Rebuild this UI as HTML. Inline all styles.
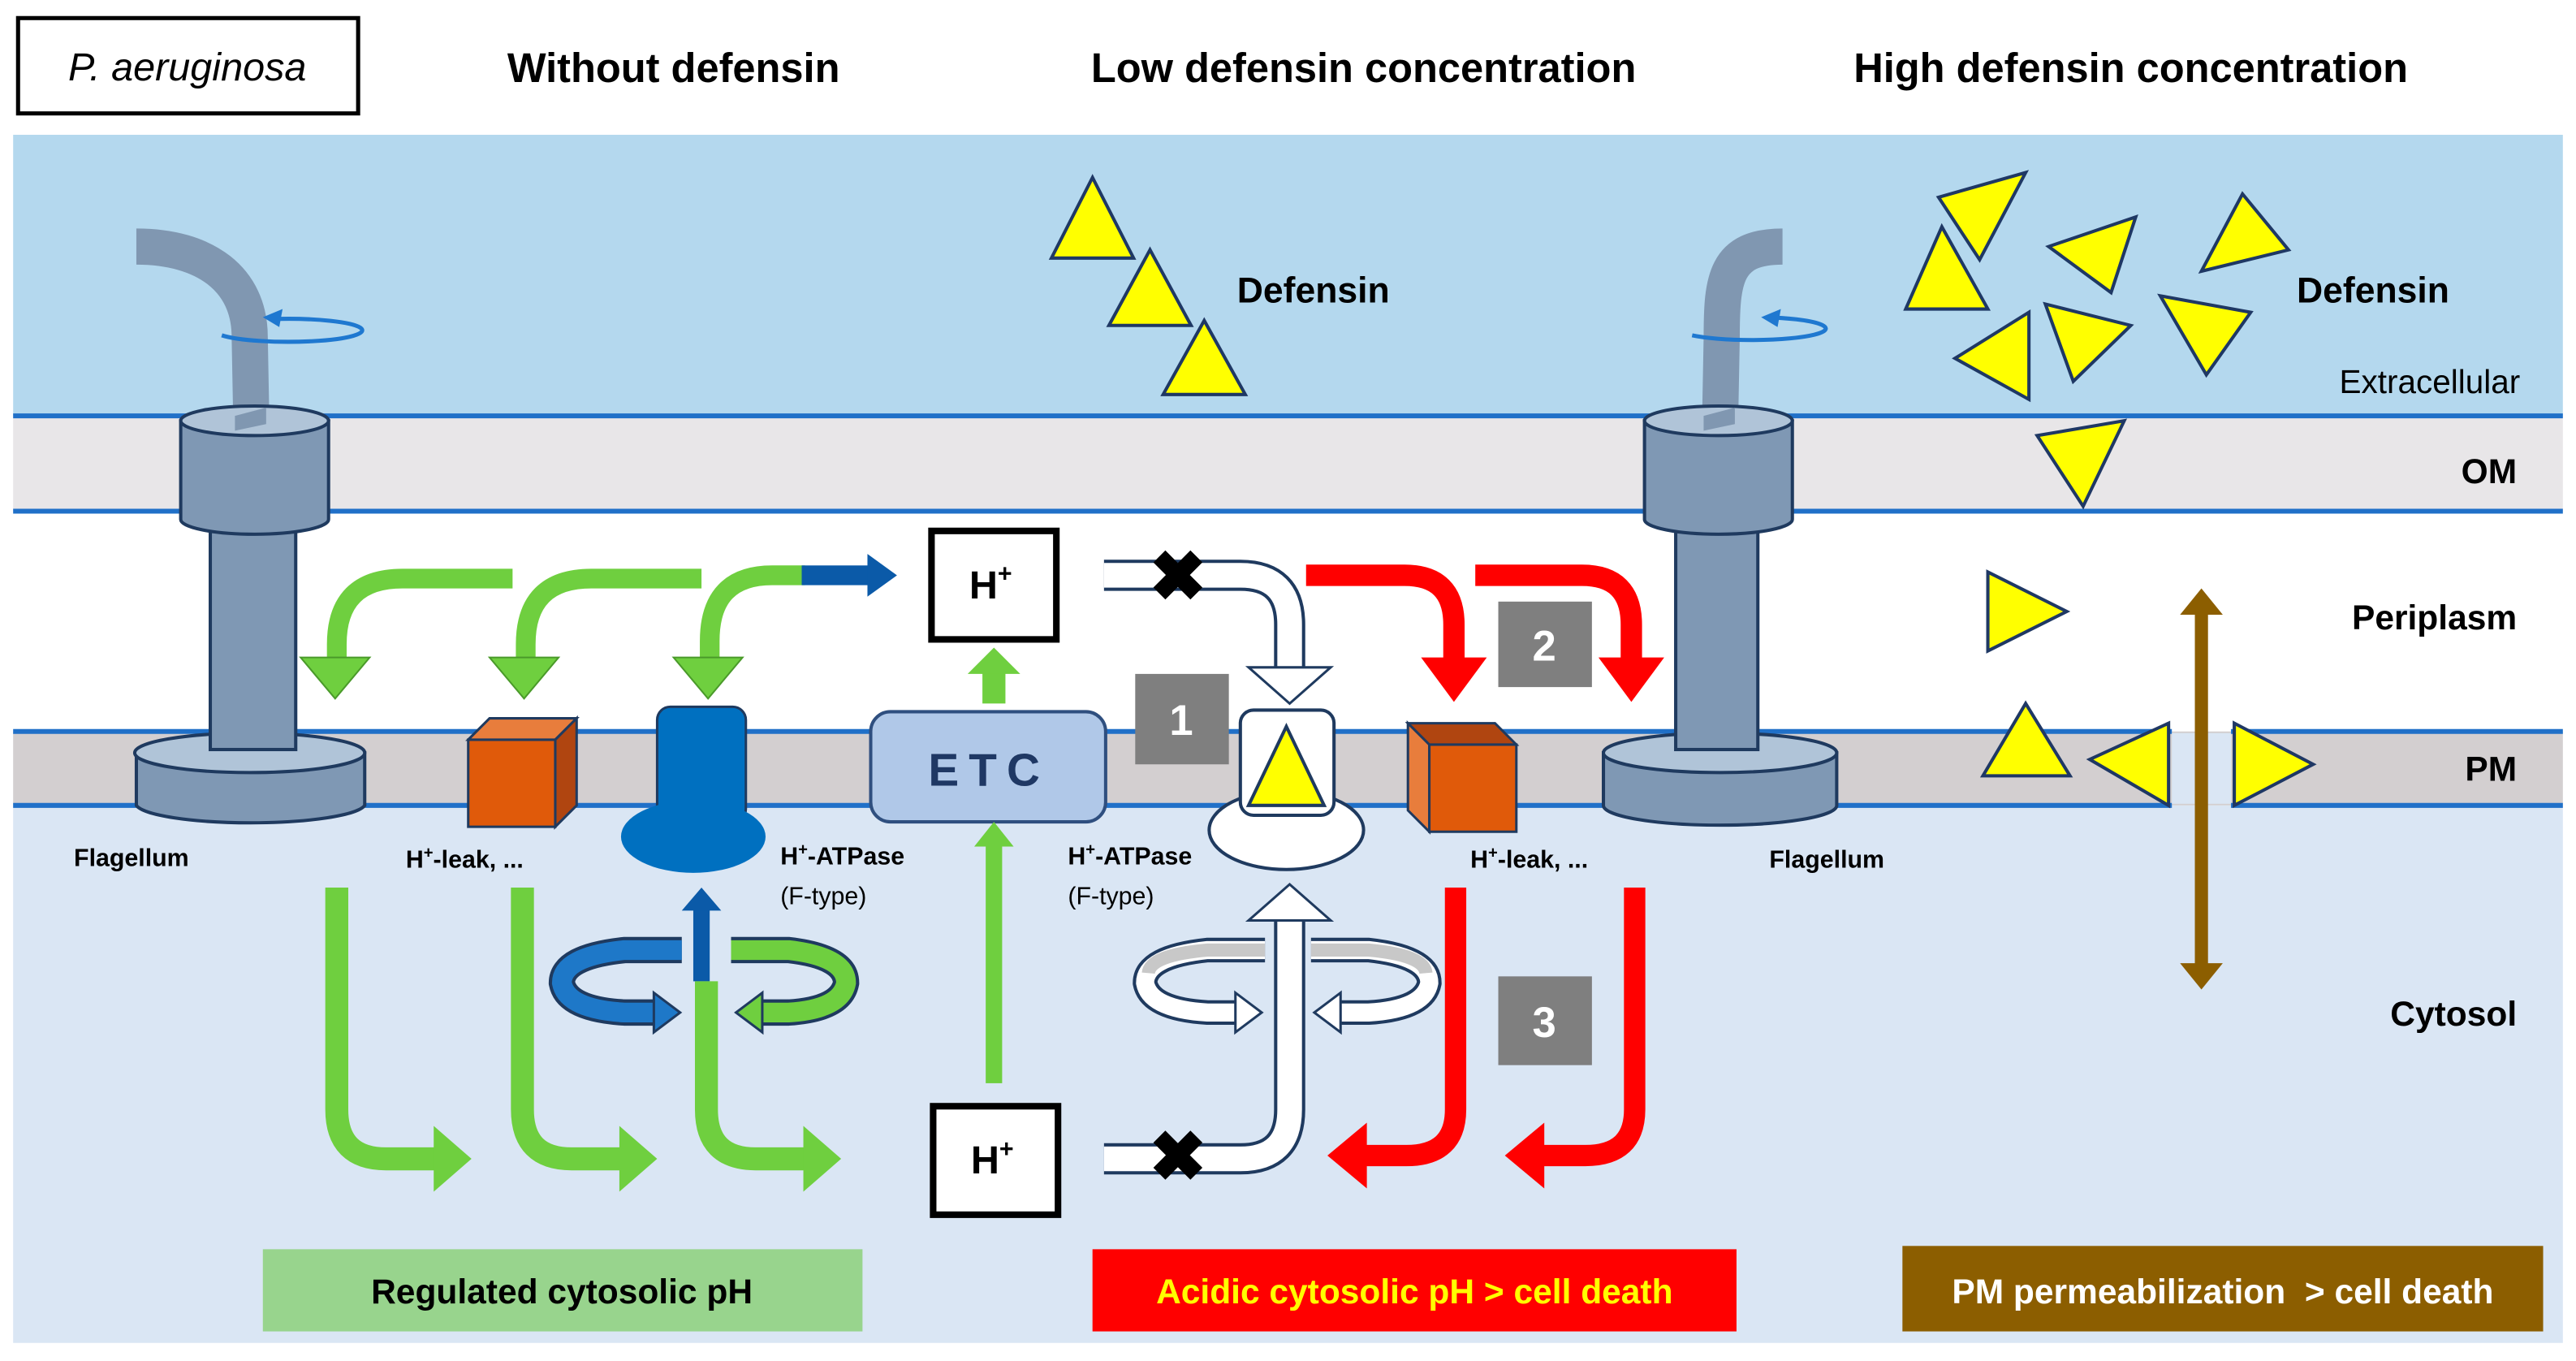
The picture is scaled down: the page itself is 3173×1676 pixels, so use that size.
<!DOCTYPE html>
<html><head><meta charset="utf-8"><style>
html,body{margin:0;padding:0;background:#fff;}
svg{display:block;}
text{font-family:"Liberation Sans",Arial,sans-serif;}
</style></head><body>
<svg width="3173" height="1676" viewBox="0 0 1568 828" preserveAspectRatio="none" xmlns="http://www.w3.org/2000/svg">
<rect x="0" y="0" width="1568" height="828" fill="#fff"/>
<!-- title -->
<rect x="11" y="11" width="207" height="58" fill="#fff" stroke="#000" stroke-width="2.5"/>
<text x="114" y="49" font-size="24" font-style="italic" text-anchor="middle">P. aeruginosa</text>
<text x="410" y="50" font-size="25" font-weight="bold" text-anchor="middle">Without defensin</text>
<text x="830" y="50" font-size="25" font-weight="bold" text-anchor="middle">Low defensin concentration</text>
<text x="1297" y="50" font-size="25" font-weight="bold" text-anchor="middle">High defensin concentration</text>

<!-- bands -->
<rect x="8" y="82" width="1552" height="171" fill="#b4d8ee"/>
<rect x="8" y="253" width="1552" height="58" fill="#e8e6e8"/>
<rect x="8" y="311" width="1552" height="134" fill="#fff"/>
<rect x="8" y="445" width="1552" height="45" fill="#d3cfd0"/>
<rect x="8" y="490" width="1552" height="327" fill="#dae6f4"/>
<g stroke="#2070c8" stroke-width="3">
<line x1="8" y1="253" x2="1560" y2="253"/>
<line x1="8" y1="311" x2="1560" y2="311"/>
<line x1="8" y1="445" x2="1322" y2="445"/><line x1="1358" y1="445" x2="1560" y2="445"/>
<line x1="8" y1="490" x2="1322" y2="490"/><line x1="1358" y1="490" x2="1560" y2="490"/>
</g>
<rect x="1322" y="446" width="36" height="43" fill="#dae6f4"/>

<!-- flagellum left -->
<g>
<path d="M83 150 C125 150,152 170,152 205 L153 258" fill="none" stroke="#8097b1" stroke-width="22"/>
<path d="M135 204 A45 7 0 1 0 170 194" fill="none" stroke="#1f78d0" stroke-width="2.5"/>
<polygon points="160,193 172,188 170,199" fill="#1f78d0"/>
<path d="M83 458 L83 490 A70 12 0 0 0 222 490 L222 458 Z" fill="#7f98b4" stroke="#1f3a5f" stroke-width="2"/>
<ellipse cx="152" cy="458" rx="70" ry="12" fill="#b0c4d8" stroke="#1f3a5f" stroke-width="2"/>
<rect x="128" y="318" width="52" height="138" fill="#7f98b4" stroke="#1f3a5f" stroke-width="2"/>
<path d="M110 256 L110 316 A45 9 0 0 0 200 316 L200 256 Z" fill="#7f98b4" stroke="#1f3a5f" stroke-width="2"/>
<ellipse cx="155" cy="256" rx="45" ry="9" fill="#b0c4d8" stroke="#1f3a5f" stroke-width="2"/>
<path d="M143 253 L143 262 L162 258 L162 248 Z" fill="#8097b1"/>
</g>
<!-- flagellum right -->
<g>
<path d="M1085 150 C1050 150,1048 170,1048 205 L1047 258" fill="none" stroke="#8097b1" stroke-width="22"/>
<path d="M1030 204 A45 7 0 1 0 1075 193" fill="none" stroke="#1f78d0" stroke-width="2.5"/>
<polygon points="1072,193 1084,188 1082,199" fill="#1f78d0"/>
<path d="M976 458 L976 490 A71 12 0 0 0 1118 490 L1118 458 Z" fill="#7f98b4" stroke="#1f3a5f" stroke-width="2"/>
<ellipse cx="1047" cy="458" rx="71" ry="12" fill="#b0c4d8" stroke="#1f3a5f" stroke-width="2"/>
<rect x="1020" y="318" width="50" height="138" fill="#7f98b4" stroke="#1f3a5f" stroke-width="2"/>
<path d="M1001 256 L1001 316 A45 9 0 0 0 1091 316 L1091 256 Z" fill="#7f98b4" stroke="#1f3a5f" stroke-width="2"/>
<ellipse cx="1046" cy="256" rx="45" ry="9" fill="#b0c4d8" stroke="#1f3a5f" stroke-width="2"/>
<path d="M1037 253 L1037 262 L1056 258 L1056 248 Z" fill="#8097b1"/>
</g>

<!-- green periplasm arrows -->
<g fill="none" stroke="#6fcf3f" stroke-width="12">
<path d="M312 352 L245 352 Q205 352 205 392 L205 402"/>
<path d="M427 352 L360 352 Q320 352 320 392 L320 402"/>
<path d="M490 350 L470 350 Q432 350 432 390 L432 402"/>
</g>
<g fill="#6fcf3f" stroke="#4a9a2a" stroke-width="1">
<polygon points="183,400 225,400 204,425"/>
<polygon points="298,400 340,400 319,425"/>
<polygon points="410,400 452,400 431,425"/>
</g>
<rect x="488" y="344" width="42" height="12" fill="#0b5aa8"/>
<polygon points="528,337 546,350 528,363" fill="#0b5aa8"/>

<!-- H+ boxes -->
<rect x="567" y="323" width="76" height="66" fill="#fff" stroke="#000" stroke-width="4"/>
<text x="603" y="364" font-size="24" font-weight="bold" text-anchor="middle">H<tspan font-size="15" dy="-10">+</tspan></text>
<rect x="568" y="673" width="76" height="66" fill="#fff" stroke="#000" stroke-width="4"/>
<text x="604" y="714" font-size="24" font-weight="bold" text-anchor="middle">H<tspan font-size="15" dy="-10">+</tspan></text>

<!-- ETC -->
<rect x="530" y="433" width="143" height="67" rx="12" fill="#b0c8e8" stroke="#2f4f7f" stroke-width="2"/>
<text x="602" y="478" font-size="28" font-weight="bold" fill="#1f3864" text-anchor="middle" letter-spacing="6">ETC</text>
<rect x="598" y="408" width="14" height="20" fill="#6fcf3f"/>
<polygon points="589,410 621,410 605,394" fill="#6fcf3f"/>
<rect x="600" y="512" width="10" height="147" fill="#6fcf3f"/>
<polygon points="593,515 617,515 605,500" fill="#6fcf3f"/>

<!-- orange cubes -->
<polygon points="285,450 338,450 338,503 285,503" fill="#e05a0a" stroke="#1f3a5f" stroke-width="1.5"/>
<polygon points="285,450 298,437 351,437 338,450" fill="#e87d3c" stroke="#1f3a5f" stroke-width="1.5"/>
<polygon points="338,450 351,437 351,490 338,503" fill="#b04510" stroke="#1f3a5f" stroke-width="1.5"/>
<polygon points="870,453 923,453 923,506 870,506" fill="#e05a0a" stroke="#1f3a5f" stroke-width="1.5"/>
<polygon points="870,453 857,440 910,440 923,453" fill="#b04510" stroke="#1f3a5f" stroke-width="1.5"/>
<polygon points="857,440 870,453 870,506 857,493" fill="#e87d3c" stroke="#1f3a5f" stroke-width="1.5"/>

<!-- blue ATPase -->
<rect x="400" y="430" width="54" height="70" rx="8" fill="#0070c0" stroke="#1f3a5f" stroke-width="1.5"/>
<ellipse cx="422" cy="509" rx="44" ry="22" fill="#0070c0"/>

<!-- labels -->
<g font-size="15" font-weight="bold">
<text x="45" y="527">Flagellum</text>
<text x="247" y="528">H<tspan font-size="10" dy="-6">+</tspan><tspan dy="6">-leak, ...</tspan></text>
<text x="475" y="526">H<tspan font-size="10" dy="-6">+</tspan><tspan dy="6">-ATPase</tspan></text>
<text x="650" y="526">H<tspan font-size="10" dy="-6">+</tspan><tspan dy="6">-ATPase</tspan></text>
<text x="895" y="528">H<tspan font-size="10" dy="-6">+</tspan><tspan dy="6">-leak, ...</tspan></text>
<text x="1077" y="528">Flagellum</text>
</g>
<text x="475" y="550" font-size="15">(F-type)</text>
<text x="650" y="550" font-size="15">(F-type)</text>

<!-- rotor rings left -->
<path d="M415 578 L380 578 Q342 582 342 598 Q345 614 380 616 L400 616" fill="none" stroke="#1f3a5f" stroke-width="16"/>
<path d="M415 578 L380 578 Q342 582 342 598 Q345 614 380 616 L400 616" fill="none" stroke="#1e78c8" stroke-width="12"/>
<polygon points="398,604 414,616 398,628" fill="#1e78c8" stroke="#1f3a5f" stroke-width="1.5"/>
<path d="M445 578 L480 578 Q515 582 515 598 Q512 614 480 616 L462 616" fill="none" stroke="#1f3a5f" stroke-width="16"/>
<path d="M445 578 L480 578 Q515 582 515 598 Q512 614 480 616 L462 616" fill="none" stroke="#6fcf3f" stroke-width="12"/>
<polygon points="464,604 448,616 464,628" fill="#6fcf3f" stroke="#1f3a5f" stroke-width="1.5"/>
<rect x="422" y="552" width="10" height="45" fill="#0b5aa8"/>
<polygon points="415,554 439,554 427,540" fill="#0b5aa8"/>

<!-- green cytosol arrows -->
<g fill="none" stroke="#6fcf3f" stroke-width="14">
<path d="M205 540 L205 675 Q205 705 235 705 L265 705"/>
<path d="M318 540 L318 675 Q318 705 348 705 L378 705"/>
<path d="M430 597 L430 675 Q430 705 460 705 L490 705"/>
</g>
<g fill="#6fcf3f">
<polygon points="264,685 287,705 264,725"/>
<polygon points="377,685 400,705 377,725"/>
<polygon points="489,685 512,705 489,725"/>
</g>

<!-- white arrows (low defensin) -->
<path d="M672 350 L755 350 Q785 350 785 380 L785 408" fill="none" stroke="#1f3a5f" stroke-width="19"/>
<path d="M672 350 L755 350 Q785 350 785 380 L785 410" fill="none" stroke="#fff" stroke-width="15"/>
<polygon points="760,406 810,406 785,428" fill="#fff" stroke="#1f3a5f" stroke-width="1.5"/>
<path d="M672 705 L755 705 Q785 705 785 675 L785 560" fill="none" stroke="#1f3a5f" stroke-width="19"/>
<path d="M672 705 L755 705 Q785 705 785 675 L785 558" fill="none" stroke="#fff" stroke-width="15"/>
<polygon points="760,560 810,560 785,538" fill="#fff" stroke="#1f3a5f" stroke-width="1.5"/>
<text x="717" y="365" font-size="42" font-weight="bold" text-anchor="middle">✖</text>
<text x="717" y="718" font-size="42" font-weight="bold" text-anchor="middle">✖</text>

<!-- white ATPase -->
<ellipse cx="783" cy="505" rx="47" ry="24" fill="#fff" stroke="#1f3a5f" stroke-width="2"/>
<rect x="755" y="432" width="57" height="64" rx="8" fill="#fff" stroke="#1f3a5f" stroke-width="2"/>
<polygon points="783,442 760,490 806,490" fill="#ffff00" stroke="#1f3a5f" stroke-width="2"/>

<!-- white rings -->
<path d="M770 578 L735 578 Q697 582 697 598 Q700 614 735 616 L752 616" fill="none" stroke="#1f3a5f" stroke-width="15"/>
<path d="M770 578 L735 578 Q697 582 697 598 Q700 614 735 616 L752 616" fill="none" stroke="#fff" stroke-width="11"/>
<path d="M770 578 L735 578 Q700 581 699 592" fill="none" stroke="#c8c8c8" stroke-width="8"/>
<polygon points="752,604 768,616 752,628" fill="#fff" stroke="#1f3a5f" stroke-width="1.5"/>
<path d="M798 578 L833 578 Q870 582 870 598 Q867 614 833 616 L816 616" fill="none" stroke="#1f3a5f" stroke-width="15"/>
<path d="M798 578 L833 578 Q870 582 870 598 Q867 614 833 616 L816 616" fill="none" stroke="#fff" stroke-width="11"/>
<path d="M798 578 L833 578 Q867 581 868 592" fill="none" stroke="#c8c8c8" stroke-width="8"/>
<polygon points="816,604 800,616 816,628" fill="#fff" stroke="#1f3a5f" stroke-width="1.5"/>

<!-- gray number boxes -->
<rect x="691" y="410" width="57" height="55" fill="#7f7f7f"/>
<text x="719" y="447" font-size="26" font-weight="bold" fill="#fff" text-anchor="middle">1</text>
<rect x="912" y="366" width="57" height="52" fill="#7f7f7f"/>
<text x="940" y="402" font-size="26" font-weight="bold" fill="#fff" text-anchor="middle">2</text>
<rect x="912" y="594" width="57" height="54" fill="#7f7f7f"/>
<text x="940" y="631" font-size="26" font-weight="bold" fill="#fff" text-anchor="middle">3</text>

<!-- red arrows -->
<g fill="none" stroke="#ff0000" stroke-width="13">
<path d="M795 350 L855 350 Q885 350 885 380 L885 402"/>
<path d="M898 350 L963 350 Q993 350 993 380 L993 402"/>
<path d="M886 540 L886 675 Q886 703 856 703 L830 703"/>
<path d="M995 540 L995 675 Q995 703 965 703 L938 703"/>
</g>
<g fill="#ff0000">
<polygon points="865,400 905,400 885,427"/>
<polygon points="973,400 1013,400 993,427"/>
<polygon points="832,683 808,703 832,723"/>
<polygon points="940,683 916,703 940,723"/>
</g>

<!-- triangles -->
<g fill="#ffff00" stroke="#1f3864" stroke-width="2" stroke-linejoin="miter">
<polygon points="665,108 640,157 690,157"/>
<polygon points="700,152 675,198 725,198"/>
<polygon points="733,195 708,240 758,240"/>
<polygon points="1180,120 1233,105 1205,158"/>
<polygon points="1160,188 1210,188 1182,138"/>
<polygon points="1247,150 1300,132 1285,178"/>
<polygon points="1340,165 1393,152 1365,118"/>
<polygon points="1190,218 1235,190 1235,243"/>
<polygon points="1245,185 1297,198 1262,232"/>
<polygon points="1315,180 1370,190 1343,228"/>
<polygon points="1240,265 1293,256 1268,308"/>
<polygon points="1210,348 1210,396 1258,372"/>
<polygon points="1207,472 1260,472 1233,428"/>
<polygon points="1272,462 1320,440 1320,490"/>
<polygon points="1360,440 1360,490 1408,465"/>
</g>

<!-- brown arrow -->
<rect x="1336" y="372" width="8" height="216" fill="#8c5e00"/>
<polygon points="1327,374 1353,374 1340,358" fill="#8c5e00"/>
<polygon points="1327,586 1353,586 1340,602" fill="#8c5e00"/>

<!-- right labels -->
<text x="753" y="184" font-size="22" font-weight="bold">Defensin</text>
<text x="1398" y="184" font-size="22" font-weight="bold">Defensin</text>
<text x="1534" y="239" font-size="20" text-anchor="end">Extracellular</text>
<text x="1532" y="294" font-size="21" font-weight="bold" text-anchor="end">OM</text>
<text x="1532" y="383" font-size="21" font-weight="bold" text-anchor="end">Periplasm</text>
<text x="1532" y="475" font-size="21" font-weight="bold" text-anchor="end">PM</text>
<text x="1532" y="624" font-size="21" font-weight="bold" text-anchor="end">Cytosol</text>

<!-- bottom boxes -->
<rect x="160" y="760" width="365" height="50" fill="#98d48d"/>
<text x="342" y="793" font-size="21" font-weight="bold" text-anchor="middle">Regulated cytosolic pH</text>
<rect x="665" y="760" width="392" height="50" fill="#ff0000"/>
<text x="861" y="793" font-size="21" font-weight="bold" fill="#ffff00" text-anchor="middle">Acidic cytosolic pH &gt; cell death</text>
<rect x="1158" y="758" width="390" height="52" fill="#8c5e00"/>
<text x="1353" y="793" font-size="21" font-weight="bold" fill="#fff" text-anchor="middle" xml:space="preserve">PM permeabilization  &gt; cell death</text>
</svg>
</body></html>
